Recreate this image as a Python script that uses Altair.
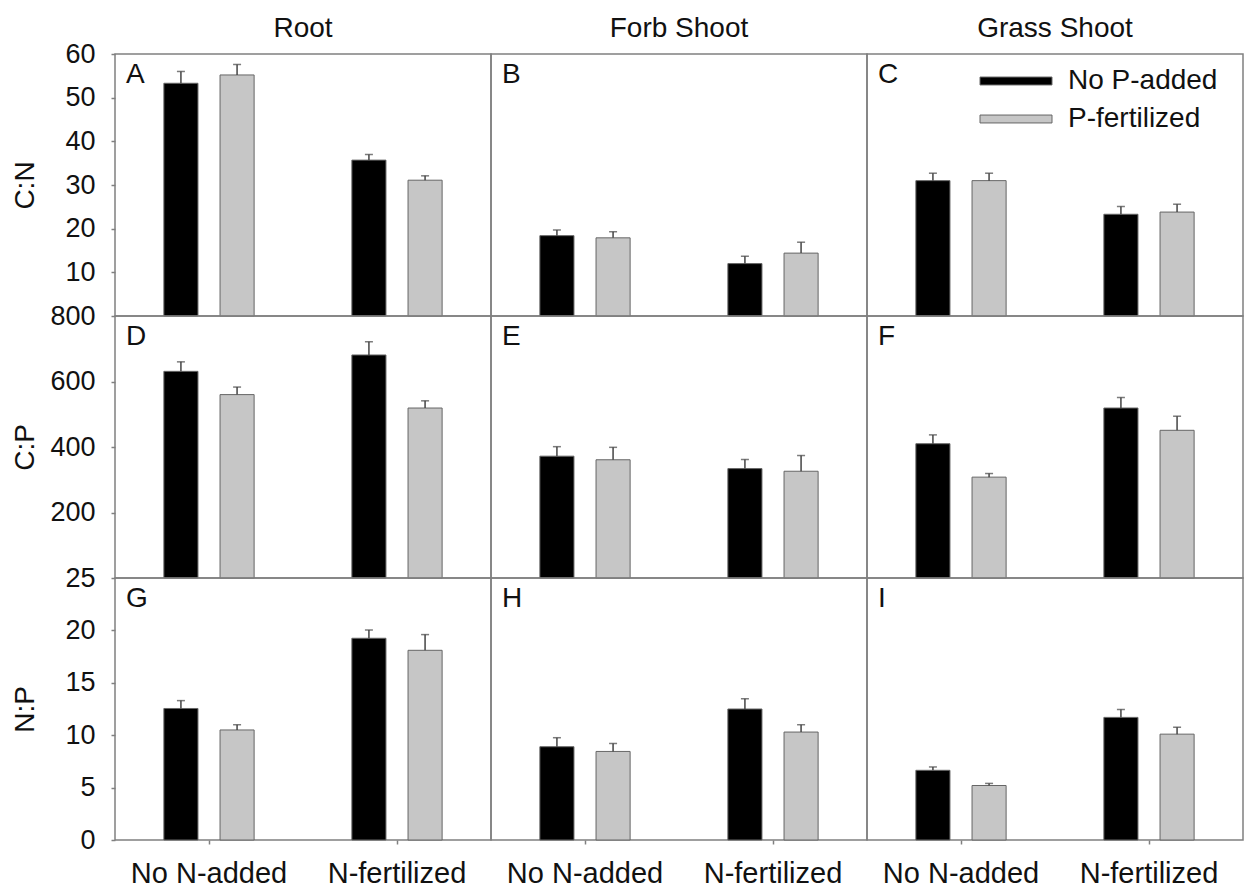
import altair as alt
import pandas as pd

tissues = ["Root", "Forb Shoot", "Grass Shoot"]
ratios = ["C:N", "C:P", "N:P"]
n_levels = ["No N-added", "N-fertilized"]
p_levels = ["No P-added", "P-fertilized"]
letters = ["A", "B", "C", "D", "E", "F", "G", "H", "I"]

# order in each list: (No N, No P), (No N, P), (N, No P), (N, P)
cn_root = [53.3, 55.2, 35.7, 31.1]
cn_root_se = [2.7, 2.4, 1.3, 1.0]
cn_forb = [18.4, 17.9, 12.0, 14.4]
cn_forb_se = [1.3, 1.4, 1.7, 2.5]
cn_grass = [31.0, 31.0, 23.3, 23.8]
cn_grass_se = [1.7, 1.7, 1.8, 1.8]

cp_root = [631, 560, 681, 519]
cp_root_se = [29, 23, 40, 22]
cp_forb = [372, 361, 334, 326]
cp_forb_se = [29, 38, 28, 48]
cp_grass = [410, 308, 519, 451]
cp_grass_se = [27, 11, 32, 43]

np_root = [12.55, 10.5, 19.25, 18.1]
np_root_se = [0.75, 0.5, 0.8, 1.5]
np_forb = [8.9, 8.45, 12.5, 10.3]
np_forb_se = [0.86, 0.76, 0.98, 0.7]
np_grass = [6.65, 5.2, 11.7, 10.1]
np_grass_se = [0.32, 0.2, 0.76, 0.66]

means = [[cn_root, cn_forb, cn_grass], [cp_root, cp_forb, cp_grass], [np_root, np_forb, np_grass]]
ses = [[cn_root_se, cn_forb_se, cn_grass_se], [cp_root_se, cp_forb_se, cp_grass_se], [np_root_se, np_forb_se, np_grass_se]]

y_domains = [[0, 60], [0, 800], [0, 25]]
y_ticks = [[10, 20, 30, 40, 50, 60], [200, 400, 600, 800], [0, 5, 10, 15, 20, 25]]

FONT = "Liberation Sans"
W, H = 376, 262
FRAME = "#808080"
ERR = "#444444"

legend = alt.Legend(title=None, orient="none", legendX=887, legendY=13,
                    symbolType="M-3,-0.33H3V0.33H-3Z", symbolSize=576,
                    symbolStrokeColor="#666666", symbolStrokeWidth=1,
                    labelFontSize=28, labelFont=FONT, labelColor="#111111",
                    labelOffset=38, rowPadding=10, padding=0)


def panel(r, c):
    vals = means[r][c]
    errs = ses[r][c]
    df = pd.DataFrame({
        "n": [n_levels[0]] * 2 + [n_levels[1]] * 2,
        "p": p_levels * 2,
        "mean": vals,
        "upper": [v + e for v, e in zip(vals, errs)],
    })
    base = alt.Chart(df)
    if r == 2:
        xaxis = alt.Axis(title=None, labelFontSize=29, labelFont=FONT, labelColor="#111111",
                         tickSize=4, tickColor=FRAME, tickWidth=1.5, domain=False,
                         labelPadding=15, labelAngle=0, grid=False)
    else:
        xaxis = None
    xs = alt.Scale(domain=n_levels, paddingInner=0.52, paddingOuter=0.26)
    x = alt.X("n:N", sort=n_levels, scale=xs, axis=xaxis)
    xo = alt.XOffset("p:N", sort=p_levels,
                     scale=alt.Scale(domain=p_levels, paddingInner=0.393, paddingOuter=0))
    ys = alt.Scale(domain=y_domains[r], nice=False, zero=True)
    if c == 0:
        yaxis = alt.Axis(title=ratios[r], values=y_ticks[r], labelFontSize=27, labelFont=FONT,
                         labelColor="#111111", tickSize=4, tickColor=FRAME, tickWidth=1.5,
                         domain=False, labelPadding=16, minExtent=70, titleFontSize=28,
                         titleFont=FONT, titleFontWeight="normal", titleColor="#111111",
                         titlePadding=6, grid=False)
    else:
        yaxis = None

    color = alt.Color("p:N", sort=p_levels,
                      scale=alt.Scale(domain=p_levels, range=["#000000", "#c6c6c6"]),
                      legend=legend)

    bars = base.mark_bar(stroke="#666666", strokeWidth=1).encode(
        x=x, xOffset=xo, y=alt.Y("mean:Q", scale=ys, axis=yaxis), color=color)
    rule = base.mark_rule(color=ERR, strokeWidth=1.5).encode(
        x=x, xOffset=xo, y=alt.Y("mean:Q", scale=ys, axis=yaxis), y2="upper:Q")
    cap = base.mark_tick(color=ERR, thickness=1.5, size=8, orient="horizontal").encode(
        x=x, xOffset=xo, y=alt.Y("upper:Q", scale=ys, axis=yaxis))
    lab = alt.Chart(pd.DataFrame({"letter": [letters[r * 3 + c]]})).mark_text(
        align="left", baseline="top", fontSize=28, font=FONT, color="#111111").encode(
        text="letter:N", x=alt.value(11), y=alt.value(7))

    layer = alt.layer(bars, rule, cap, lab).properties(width=W, height=H)
    if r == 0:
        layer = layer.properties(title=alt.TitleParams(tissues[c], fontSize=28, font=FONT,
                                                       fontWeight="normal", color="#111111",
                                                       offset=11 if c else -3, frame="group"))
    return layer


panels = [panel(r, c) for r in range(3) for c in range(3)]
chart = alt.concat(*panels, columns=3, spacing=0, bounds="flush").properties(
    background="white",
    padding={"left": 10, "top": 14, "right": 5, "bottom": 5},
).configure_view(stroke=FRAME, strokeWidth=1.5)

chart.save("out.html", embed_options={"renderer": "svg", "actions": False})
